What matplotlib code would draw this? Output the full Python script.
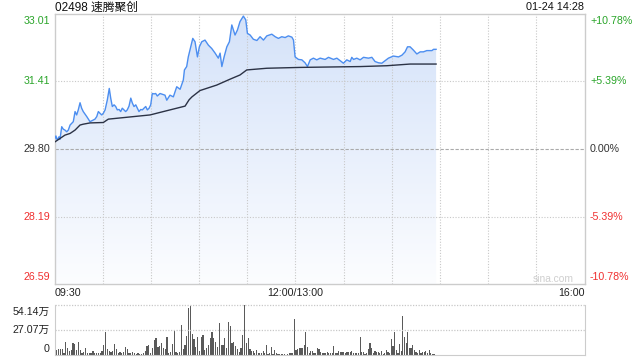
import numpy as np
import matplotlib
matplotlib.use("Agg")
import matplotlib.pyplot as plt
import matplotlib.transforms as mtransforms
from matplotlib.colors import LinearSegmentedColormap

plt.rcParams['font.family'] = ['Liberation Sans', 'Noto Sans CJK SC']

title = "02498 速腾聚创"
stamp = "01-24 14:28"
prev_close = 29.80
price_ticks = [33.01, 31.41, 29.80, 28.19, 26.59]
pct_labels = ["+10.78%", "+5.39%", "0.00%", "-5.39%", "-10.78%"]
time_labels = ["09:30", "12:00/13:00", "16:00"]
vol_ticks = [0, 27.07, 54.14]
vol_labels = ["0", "27.07万", "54.14万"]

price_min = [0.3,0.9,1.7,2.8,3.4,4.5,5.5,6.5,7.6,8.6,
             9.7,10.7,11.7,12.8,13.8,14.8,15.9,16.9,17.9,19.0,
             20.1,21.1,22.1,23.2,24.2,25.2,26.3,27.3,28.3,29.4,
             30.4,31.5,32.9,34.1,35.0,36.0,37.1,38.1,39.1,40.2,
             41.2,42.2,43.3,44.3,45.3,46.4,47.5,48.5,49.5,50.6,
             51.6,52.6,53.7,54.7,55.7,56.8,57.8,58.9,59.9,60.9,
             62.0,63.0,64.0,65.1,65.7,68.8,69.9,71.9,74.0,76.1,
             78.2,80.2,80.9,82.3,83.3,84.8,86.1,87.5,89.0,90.2,
             91.7,93.7,95.8,97.9,100.0,102.0,103.1,104.2,105.6,107.3,
             108.9,110.4,112.4,113.9,115.5,117.6,119.1,120.1,121.8,123.8,
             126.0,128.0,130.1,132.2,135.3,137.4,139.4,141.5,143.6,145.6,
             147.8,148.8,149.8,151.9,154.0,156.0,157.5,159.2,161.2,163.3,
             165.4,168.5,170.6,173.7,175.8,177.8,179.9,182.0,184.1,185.1,
             186.2,188.2,190.3,192.4,195.5,197.6,199.6,201.7,203.8,205.9,
             207.9,211.0,214.2,216.3,218.3,219.8,221.4,223.5,225.6,227.7,
             229.7,231.8,235.0,236.0,237.6]
price = [30.05,30.11,30.01,30.09,30.03,30.33,30.27,30.25,30.21,30.25,
         30.37,30.41,30.45,30.69,30.61,30.73,30.90,30.77,30.69,30.63,
         30.57,30.51,30.45,30.47,30.49,30.51,30.57,30.69,30.65,30.61,
         30.65,30.73,30.97,31.24,31.01,30.81,30.85,30.81,30.73,30.74,
         30.69,30.77,30.73,30.69,30.73,30.82,31.01,30.89,30.81,30.85,
         30.77,30.69,30.74,30.73,30.77,30.81,30.73,30.77,30.85,31.12,
         31.11,31.12,31.06,31.10,31.12,31.08,30.96,31.08,31.04,31.28,
         31.22,31.44,31.68,31.76,31.99,32.23,32.43,32.35,31.99,32.23,
         32.35,32.39,32.27,32.19,32.08,31.96,32.08,31.76,31.99,32.23,
         32.35,32.75,32.51,32.63,32.83,32.96,32.87,32.55,32.51,32.41,
         32.38,32.47,32.39,32.49,32.53,32.47,32.43,32.47,32.45,32.49,
         32.46,32.39,31.99,31.93,31.92,31.85,31.76,31.92,31.96,31.92,
         31.96,31.93,31.98,31.93,31.96,31.90,31.84,31.92,31.88,31.98,
         31.93,31.96,31.92,31.98,31.96,31.98,31.88,31.85,31.84,31.90,
         31.96,32.01,31.99,32.03,32.11,32.23,32.23,32.15,32.06,32.11,
         32.11,32.14,32.14,32.17,32.17]

avg_min = [0.3,3.4,6.5,9.7,12.8,15.9,17.9,22.1,30.4,33.5,
           38.7,49.1,59.5,65.7,78.2,81.3,83.8,85.6,90.6,101.0,
           109.3,115.5,119.7,132.2,152.9,190.3,206.9,221.4,237.6]
avg_price = [29.97,30.05,30.13,30.17,30.25,30.37,30.39,30.42,30.43,30.51,
             30.53,30.57,30.61,30.67,30.79,30.82,30.97,31.04,31.19,31.32,
             31.46,31.56,31.68,31.72,31.74,31.76,31.78,31.82,31.82]

# volume (万), two consecutive runs of bars
vol_a = [4.3,5.4,6.1,6.5,6.1,2.5,14.1,7.2,4.7,5.4,
         12.6,11.9,5.4,14.1,5.4,1.8,3.6,7.2,1.8,2.5,
         1.8,4.3,1.8,2.5,1.8,2.5,4.3,10.8,24.9,6.5,
         4.3,3.6,4.7,11.9,6.1,2.5,3.6,2.5,2.9,9.0,
         6.1,2.5,1.8,3.6,2.5,1.1,1.8,1.1,1.1,2.5,
         4.3,9.7,10.8,2.5,7.2,16.2,18.0,9.0,10.1,12.6,
         7.2,6.1,19.1,1.8,3.6,11.9,26.0,3.6,1.8,2.9,
         32.5,6.1,10.8,20.6,50.5,53.1,22.4,17.0,9.0,19.1,
         4.7,19.5,21.7,5.4,7.2,10.8,18.0,25.3,18.8,14.4,
         9.0,34.3,10.8,10.8,18.0,7.2,35.4,31.4,12.6,13.7,
         9.7,6.1,3.6,7.2,21.7,54.1,13.4,18.0]
vol_b = [6.1,4.7,4.7,1.8,5.4,1.8,2.5,1.8,4.7,1.8,
         10.8,1.1,1.8,9.0,1.1,5.4,2.5,1.1,1.1,1.1,
         1.1,1.1,0.4,1.1,2.5,1.8,1.8,39.0,5.4,6.5,
         7.2,7.2,7.2,10.8,24.9,9.0,1.8,4.3,4.3,1.8,
         1.8,7.2,6.1,3.6,1.8,2.5,1.8,2.9,1.8,1.8,
         1.8,9.7,1.8,1.8,4.3,3.6,2.9,2.9,1.8,2.9,
         2.9,3.6,4.3,1.8,1.8,1.8,1.8,19.9,3.6,3.6,
         1.1,1.8,6.1,13.4,7.2,1.8,4.3,3.6,3.6,1.8,
         4.3,1.1,1.8,5.4,3.6,2.5,17.3,9.7,24.9,5.4,
         1.8,11.9,4.3,42.2,19.9,13.4,25.3,7.2,7.2,10.8,
         5.4,3.6,1.8,5.4,1.8,2.9,3.6,4.7,1.8,5.4,
         1.8,1.1,1.1,0.2,0.4]
vol_a_span = (0.3, 120.6)
vol_b_span = (121.7, 238.4)

GREEN = '#2aa52a'
RED = '#f03030'
DARK = '#333333'
GRID = '#c8c8c8'
FRAME = '#cccccc'

fig = plt.figure(figsize=(6.4, 3.6), dpi=100)
W, H = 640, 360
ax = fig.add_axes([54.5 / W, 1 - 284 / H, 530 / W, 270 / H])
axv = fig.add_axes([54.5 / W, 1 - 355 / H, 530 / W, 50 / H])

ymin, ymax = price_ticks[-1], price_ticks[0]

# gradient fill under price line
poly = ax.fill_between(price_min, price, ymin, facecolor='none', edgecolor='none')
grad = np.linspace(0, 1, 256).reshape(-1, 1)
cmap = LinearSegmentedColormap.from_list('g', ['#fcfdff', '#d4e2f9'])
im = ax.imshow(grad, extent=[price_min[0], price_min[-1], ymin, ymax], origin='lower',
               aspect='auto', cmap=cmap, zorder=1, interpolation='bilinear')
im.set_clip_path(poly.get_paths()[0], transform=ax.transData)

ax.plot(price_min, price, color='#4c8ef0', lw=1.0, zorder=4)
ax.plot(avg_min, avg_price, color='#2b3245', lw=1.0, zorder=4)

ax.set_xlim(0, 330)
ax.set_ylim(ymin, ymax)

# grid
for xv in range(30, 330, 30):
    ax.axvline(xv, color=GRID, lw=0.8, ls=(0, (1, 1.5)), zorder=2)
for yv in price_ticks[1:-1]:
    if yv == prev_close:
        ax.axhline(yv, color='#aaaaaa', lw=0.8, ls=(0, (3, 1.5)), zorder=2)
    else:
        ax.axhline(yv, color=GRID, lw=0.8, ls=(0, (1, 1.5)), zorder=2)

ax.set_xticks([])
ax.set_yticks([])
for s in ax.spines.values():
    s.set_color(FRAME)
    s.set_linewidth(1.0)

fs = 7.7
trans = mtransforms.blended_transform_factory(ax.transAxes, ax.transData)
for i, (v, pl) in enumerate(zip(price_ticks, pct_labels)):
    if v > prev_close:
        c = GREEN
    elif v < prev_close:
        c = RED
    else:
        c = DARK
    va = 'top' if i == 0 else ('bottom' if i == len(price_ticks) - 1 else 'center')
    dy = -1.5 if i == 0 else (1.5 if i == len(price_ticks) - 1 else 0)
    off = mtransforms.offset_copy(trans, fig=fig, x=0, y=dy, units='points')
    ax.text(-4.5 / 530, v, f"{v:.2f}", transform=off, ha='right', va=va, color=c, fontsize=fs)
    ax.text(1 + 5.5 / 530, v, pl, transform=off, ha='left', va=va, color=c, fontsize=fs)

# time labels
ax.text(0, -0.015, time_labels[0], transform=ax.transAxes, ha='left', va='top', fontsize=fs, color='#222222')
ax.text(0.5 * 300 / 330, -0.015, time_labels[1], transform=ax.transAxes, ha='center', va='top', fontsize=fs, color='#222222')
ax.text(1, -0.015, time_labels[2], transform=ax.transAxes, ha='right', va='top', fontsize=fs, color='#222222')

ax.text(1 - 11 / 530, 5 / 270, "sina.com", transform=ax.transAxes, ha='right', va='center',
        fontsize=7.4, color='#cfcfcf')

fig.text(55 / W, 1 - 7.5 / H, title, ha='left', va='center', fontsize=8.5, color='#111111')
fig.text(584 / W, 1 - 7.5 / H, stamp, ha='right', va='center', fontsize=7.8, color='#111111')

# volume
ta = np.linspace(vol_a_span[0], vol_a_span[1], len(vol_a))
tb = np.linspace(vol_b_span[0], vol_b_span[1], len(vol_b))
axv.bar(ta, vol_a, width=0.75, color='#5a5a5a', linewidth=0)
axv.bar(tb, vol_b, width=0.75, color='#5a5a5a', linewidth=0)
axv.set_xlim(0, 330)
axv.set_ylim(0, vol_ticks[-1])
axv.axhline(vol_ticks[1], color=GRID, lw=0.9, ls=(0, (1, 1.2)))
axv.set_xticks([])
axv.set_yticks([])
for k in ['left', 'right', 'bottom']:
    axv.spines[k].set_color(FRAME)
axv.spines['top'].set_visible(False)
axv.axhline(vol_ticks[-1], color=GRID, lw=0.9, ls=(0, (1, 1.2)), clip_on=False)
transv = mtransforms.blended_transform_factory(axv.transAxes, axv.transData)
for i, (v, l) in enumerate(zip(vol_ticks, vol_labels)):
    va = 'bottom' if i == 0 else ('top' if i == len(vol_ticks) - 1 else 'center')
    dy = 0.5 if i == 0 else (-1.5 if i == len(vol_ticks) - 1 else 0)
    off = mtransforms.offset_copy(transv, fig=fig, x=0, y=dy, units='points')
    axv.text(-4.5 / 530, v, l, transform=off, ha='right', va=va, fontsize=fs, color='#222222')

fig.savefig('out.png', dpi=100)
